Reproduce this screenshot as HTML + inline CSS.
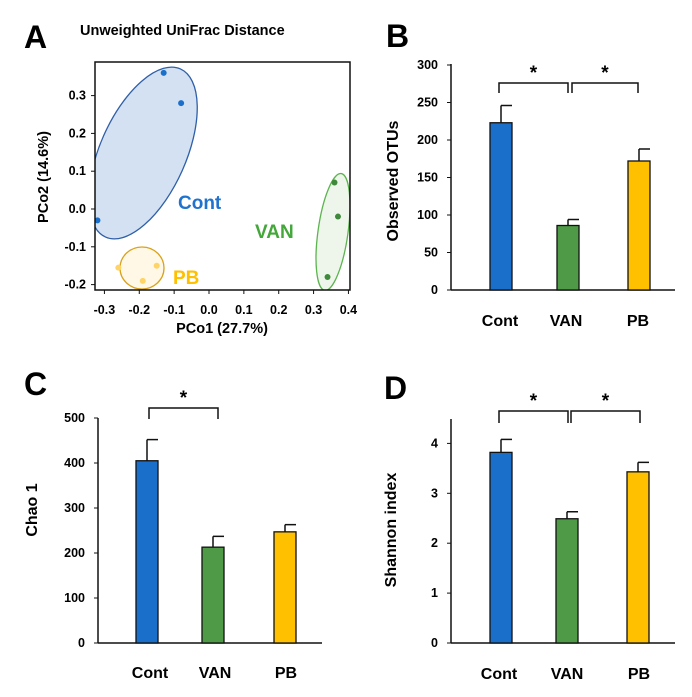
<!DOCTYPE html>
<html><head><meta charset="utf-8"><style>
html,body{margin:0;padding:0;background:#fff;}
svg{display:block;font-family:"Liberation Sans",Arial,sans-serif;font-weight:bold;}
</style></head><body>
<svg id="fig" width="692" height="697" viewBox="0 0 692 697" xmlns="http://www.w3.org/2000/svg">
<defs><clipPath id="clipA"><rect x="95" y="62" width="255" height="228"/></clipPath></defs>
</svg>
<script>
// ---- Panel A data ----
const pcoXTicks = [-0.3,-0.2,-0.1,0.0,0.1,0.2,0.3,0.4];
const pcoYTicks = [-0.2,-0.1,0.0,0.1,0.2,0.3];
const contX = [-0.13,-0.08,-0.32];
const contY = [0.36,0.28,-0.03];
const vanX = [0.36,0.37,0.34];
const vanY = [0.07,-0.02,-0.18];
const pbX = [-0.26,-0.15,-0.19];
const pbY = [-0.155,-0.15,-0.19];
// ---- Bar panel data ----
const categories = ["Cont","VAN","PB"];
const otuValues = [223,86,172];
const otuErrors = [23,8,16];
const otuTicks = [0,50,100,150,200,250,300];
const chaoValues = [405,213,247];
const chaoErrors = [47,24,16];
const chaoTicks = [0,100,200,300,400,500];
const shannonValues = [3.82,2.49,3.43];
const shannonErrors = [0.26,0.14,0.19];
const shannonTicks = [0,1,2,3,4];

const NS="http://www.w3.org/2000/svg";
const svg=document.getElementById('fig');
function mk(tag,attrs,parent,text){const e=document.createElementNS(NS,tag);for(const k in attrs)e.setAttribute(k,attrs[k]);if(text!==undefined)e.textContent=text;(parent||svg).appendChild(e);return e;}
const colors=["#1a6fca","#4e9a47","#ffc000"];
const K="#111";

// ---------- Panel A ----------
const ax=v=>209+v*348.6, ay=v=>209-v*378;
let t;
t=mk('text',{x:24,y:48,'font-size':32},svg,'A');

t=mk('text',{x:80,y:35,'font-size':14.5},svg,'Unweighted UniFrac Distance');

const gA=mk('g',{'clip-path':'url(#clipA)'});

let el;
el=mk('ellipse',{cx:143,cy:153,rx:92,ry:43,transform:'rotate(-66 143 153)',fill:'#d3e1f3',stroke:'#2f5fa8','stroke-width':1.3},gA);

el=mk('ellipse',{cx:333,cy:232,rx:15,ry:59,transform:'rotate(8 333 232)',fill:'#eef6ec',stroke:'#5cb44f','stroke-width':1.3},gA);

el=mk('ellipse',{cx:142,cy:268,rx:22,ry:21,fill:'#fff8e6',stroke:'#d9a21c','stroke-width':1.3},gA);

const groups=[[contX,contY,"#1a6fca","cont"],[vanX,vanY,"#3e8a3a","van"],[pbX,pbY,"#ffd467","pb"]];
groups.forEach(g=>{g[0].forEach((x,i)=>{const c=mk('circle',{cx:ax(x),cy:ay(g[1][i]),r:3,fill:g[2]});
});});
el=mk('rect',{x:95,y:62,width:255,height:228,fill:'none',stroke:K,'stroke-width':1.5});

pcoXTicks.forEach(v=>{mk('line',{x1:ax(v),x2:ax(v),y1:290,y2:294,stroke:K});
t=mk('text',{x:ax(v),y:314,'font-size':12.5,'text-anchor':'middle'},svg,v.toFixed(1));
});
pcoYTicks.forEach(v=>{mk('line',{x1:91,x2:95,y1:ay(v),y2:ay(v),stroke:K});
t=mk('text',{x:86,y:ay(v)+4,'font-size':12.5,'text-anchor':'end'},svg,v.toFixed(1));
});
t=mk('text',{x:222,y:333,'font-size':14.5,'text-anchor':'middle'},svg,'PCo1 (27.7%)');

t=mk('text',{x:0,y:0,'font-size':14.5,'text-anchor':'middle',transform:'translate(48 177) rotate(-90)'},svg,'PCo2 (14.6%)');

t=mk('text',{x:178,y:209,'font-size':19,fill:'#1f73cf'},svg,'Cont');

t=mk('text',{x:255,y:238,'font-size':19,fill:'#43a73a'},svg,'VAN');

t=mk('text',{x:173,y:284,'font-size':19,fill:'#ffc000'},svg,'PB');


// ---------- Bar panel builder ----------
function barPanel(o){
  const y=v=>o.base-(v/o.max)*(o.base-o.topTick);
  t=mk('text',{x:o.lx,y:o.ly,'font-size':32},svg,o.letter);
  
  let l=mk('line',{x1:o.axX,x2:o.axX,y1:o.axTop,y2:o.base,stroke:K,'stroke-width':1.5});
  
  l=mk('line',{x1:o.axX,x2:o.axEnd,y1:o.base,y2:o.base,stroke:K,'stroke-width':1.5});
  
  o.ticks.forEach(v=>{mk('line',{x1:o.axX-4,x2:o.axX,y1:y(v),y2:y(v),stroke:K});
    t=mk('text',{x:o.axX-13,y:y(v)+4,'font-size':12.5,'text-anchor':'end'},svg,String(v));
    });
  o.values.forEach((v,i)=>{
    const x0=o.barX[i], cx=x0+11;
    const eb=mk('line',{x1:cx,x2:cx,y1:y(v),y2:y(v+o.errs[i]),stroke:K,'stroke-width':1.5});
    
    const cap=mk('line',{x1:cx,x2:cx+11,y1:y(v+o.errs[i]),y2:y(v+o.errs[i]),stroke:K,'stroke-width':1.5});
    
    const r=mk('rect',{x:x0,y:y(v),width:22,height:o.base-y(v),fill:colors[i],stroke:K,'stroke-width':1.3});
    
    t=mk('text',{x:cx+o.catOff[i],y:o.catY,'font-size':16,'text-anchor':'middle'},svg,categories[i]);
    
  });
  t=mk('text',{x:0,y:0,'font-size':16,'text-anchor':'middle',transform:`translate(${o.tx} ${o.ty}) rotate(-90)`},svg,o.title);
  
  o.brackets.forEach(b=>{
    const p=mk('path',{d:`M${b[0]} ${b[3]}V${b[2]}H${b[1]}V${b[3]}`,fill:'none',stroke:K,'stroke-width':1.5});
    
    t=mk('text',{x:(b[0]+b[1])/2,y:b[2]-4,'font-size':19,'text-anchor':'middle'},svg,'*');
    
  });
}
barPanel({letter:'B',lx:386,ly:47,axX:451,axEnd:675,axTop:64,base:290,topTick:65,max:300,ticks:otuTicks,values:otuValues,errs:otuErrors,
  barX:[490,557,628],catOff:[-1,-2,-1],catY:326,title:'Observed OTUs',tx:398,ty:181,
  brackets:[[499,568,83,93],[572,638,83,93]]});
barPanel({letter:'C',lx:24,ly:395,axX:98,axEnd:322,axTop:418,base:643,topTick:418,max:500,ticks:chaoTicks,values:chaoValues,errs:chaoErrors,
  barX:[136,202,274],catOff:[3,2,1],catY:678,title:'Chao 1',tx:37,ty:510,
  brackets:[[149,218,408,419]]});
barPanel({letter:'D',lx:384,ly:399,axX:451,axEnd:675,axTop:419,base:643,topTick:443.4,max:4,ticks:shannonTicks,values:shannonValues,errs:shannonErrors,
  barX:[490,556,627],catOff:[-2,0,1],catY:679,title:'Shannon index',tx:396,ty:530,
  brackets:[[499,568,411,423],[571,640,411,423]]});
</script>
</body></html>
